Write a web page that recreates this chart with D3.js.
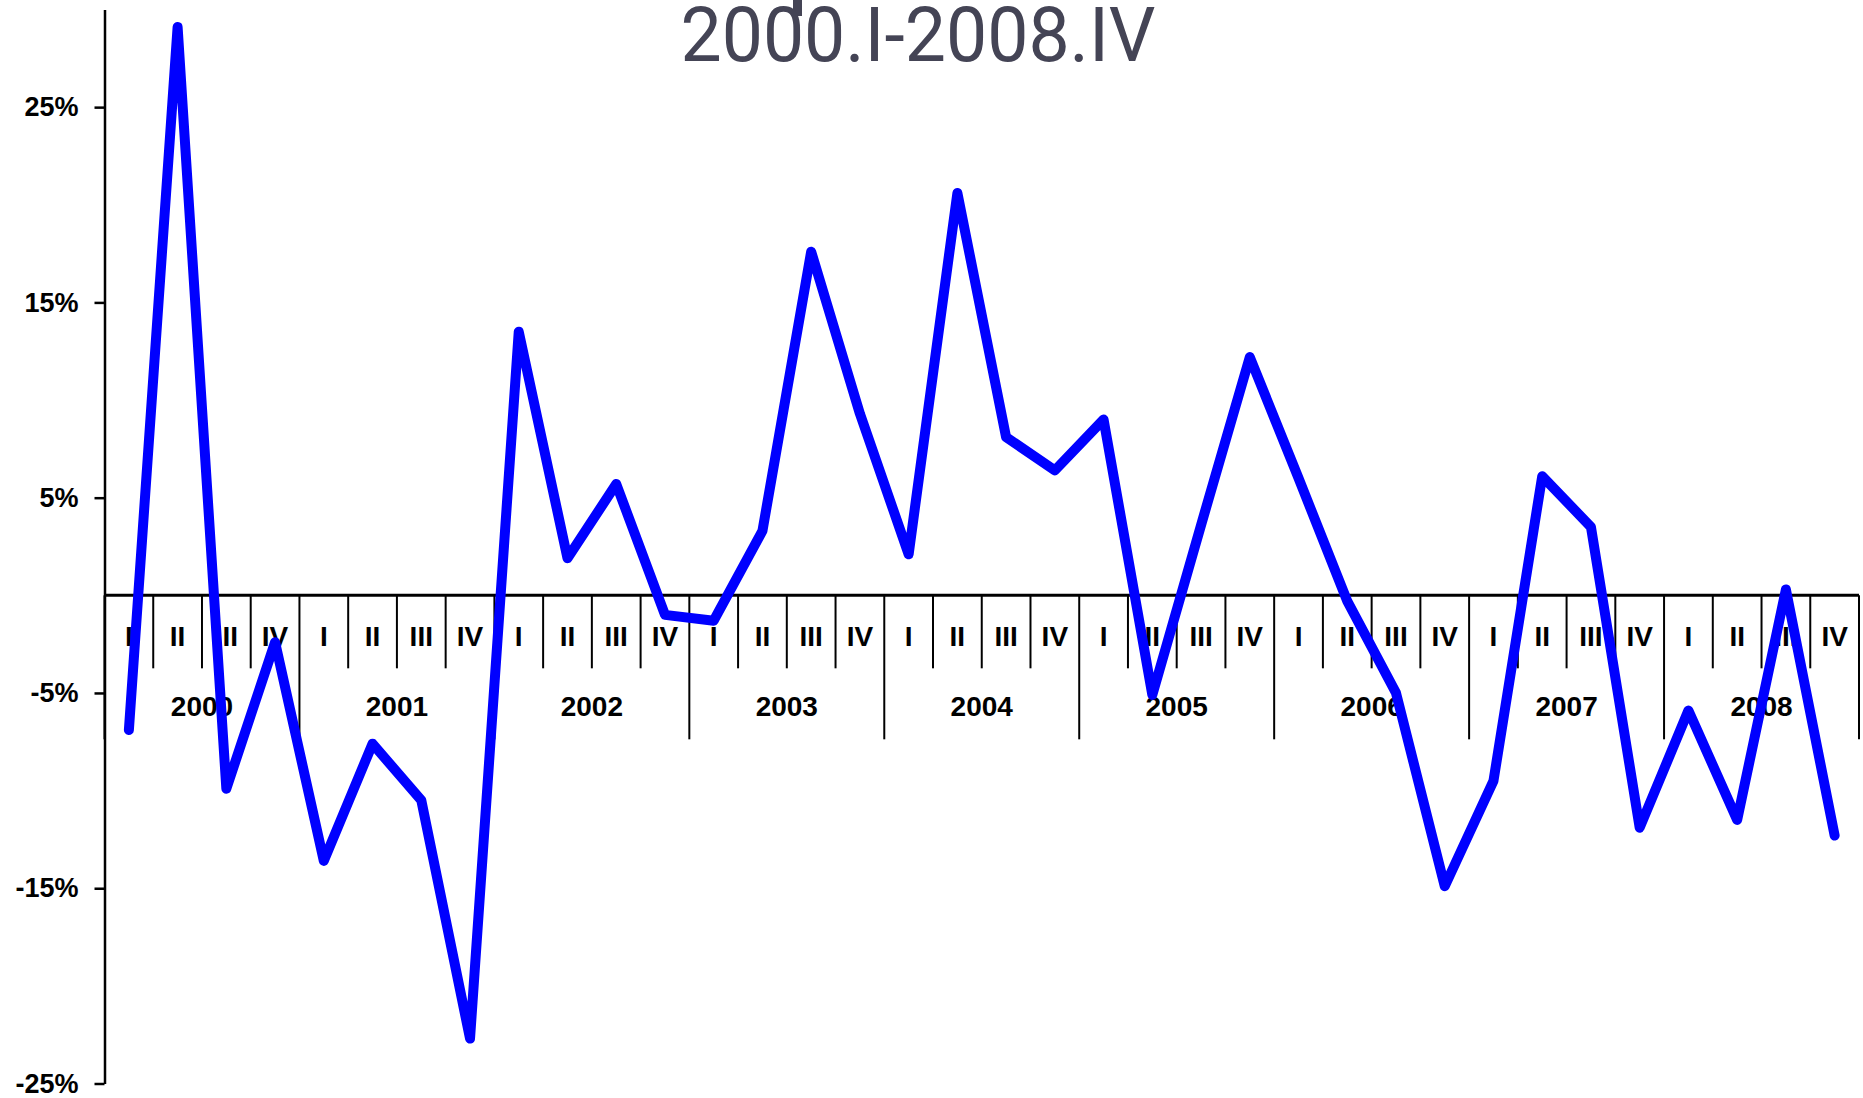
<!DOCTYPE html>
<html>
<head>
<meta charset="utf-8">
<script src="https://cdn.jsdelivr.net/npm/d3@7"></script>
<style>
  body { margin: 0; background: #fff; }
  svg { display: block; }
</style>
</head>
<body>
<script>
// data
var years = ['2000', '2001', '2002', '2003', '2004', '2005', '2006', '2007', '2008'];
var quarters = ['I', 'II', 'III', 'IV'];
var values = [
  -6.9, 29.1, -9.9, -2.4,     // 2000
  -13.6, -7.6, -10.5, -22.7,  // 2001
  13.5, 1.9, 5.7, -1.0,       // 2002
  -1.3, 3.3, 17.6, 9.3,       // 2003
  2.1, 20.6, 8.1, 6.4,        // 2004
  9.0, -5.1, 3.6, 12.2,       // 2005
  6.0, -0.3, -5.0, -14.9,     // 2006
  -9.5, 6.1, 3.5, -11.9,      // 2007
  -5.9, -11.5, 0.3, -12.3     // 2008
];
var yTicks = [-25, -15, -5, 5, 15, 25];

var W = 1863, H = 1098;
var periods = [];
years.forEach(function(yr) { quarters.forEach(function(q) { periods.push({year: yr, q: q, key: yr + '.' + q}); }); });
periods.forEach(function(p, i) { p.v = values[i]; });

var svg = d3.select('body').append('svg')
  .attr('width', W)
  .attr('height', H);

var x = d3.scaleBand().domain(periods.map(d => d.key)).range([104.5, 1859]).padding(0);
var y = d3.scaleLinear().domain([-25, 30]).range([1083.5, 9.5]);

var font = "'Liberation Sans', Arial, sans-serif";

// title (top is clipped in the original, a bit of the line above shows)
svg.append('rect')
  .attr('x', 793).attr('y', 0).attr('width', 9).attr('height', 16)
  .style('fill', '#444455');
svg.append('text')
  .attr('x', 918).attr('y', 61)
  .attr('text-anchor', 'middle')
  .attr('textLength', 475)
  .attr('lengthAdjust', 'spacingAndGlyphs')
  .style('font-family', "Roboto, 'Liberation Sans', sans-serif")
  .style('font-weight', 400)
  .style('font-size', '76px')
  .style('fill', '#444455')
  .text('2000.I-2008.IV');

// y axis
var yAxis = d3.axisLeft(y)
  .tickValues(yTicks)
  .tickFormat(d => d + '%')
  .tickSize(10)
  .tickSizeOuter(0)
  .tickPadding(16);

var gy = svg.append('g')
  .attr('transform', 'translate(' + x.range()[0] + ',0)')
  .call(yAxis);
gy.select('.domain').style('stroke', '#000').style('stroke-width', 2.5);
gy.selectAll('.tick line').style('stroke', '#000').style('stroke-width', 2.5);
gy.selectAll('.tick text')
  .style('font-family', font)
  .style('font-weight', 'bold')
  .style('font-size', '27px')
  .style('fill', '#000');

// x axis : zero line with quarter / year divisions
var gx = svg.append('g').attr('class', 'xaxis');
var y0 = y(0);

gx.selectAll('.qtick')
  .data(periods.filter(d => d.q != 'I'))
  .enter()
  .append('line')
  .attr('class', 'qtick')
  .attr('x1', d => x(d.key)).attr('x2', d => x(d.key))
  .attr('y1', y0).attr('y2', y0 + 73)
  .style('stroke', '#000')
  .style('stroke-width', 2);

var yearEdges = periods.filter(d => d.q == 'I').map(d => x(d.key)).concat([x.range()[1]]);
gx.selectAll('.ytick')
  .data(yearEdges)
  .enter()
  .append('line')
  .attr('class', 'ytick')
  .attr('x1', d => d).attr('x2', d => d)
  .attr('y1', y0).attr('y2', y0 + 144)
  .style('stroke', '#000')
  .style('stroke-width', 2);

gx.append('line')
  .attr('x1', x.range()[0]).attr('x2', x.range()[1])
  .attr('y1', y0).attr('y2', y0)
  .style('stroke', '#000')
  .style('stroke-width', 3);

gx.selectAll('.qlabel')
  .data(periods)
  .enter()
  .append('text')
  .attr('class', 'qlabel')
  .attr('x', d => x(d.key) + x.bandwidth() / 2)
  .attr('y', 646)
  .attr('text-anchor', 'middle')
  .style('font-family', font)
  .style('font-weight', 'bold')
  .style('font-size', '28px')
  .style('fill', '#000')
  .text(d => d.q);

gx.selectAll('.ylabel')
  .data(years)
  .enter()
  .append('text')
  .attr('class', 'ylabel')
  .attr('x', d => x(d + '.II') + x.bandwidth())
  .attr('y', 716)
  .attr('text-anchor', 'middle')
  .style('font-family', font)
  .style('font-weight', 'bold')
  .style('font-size', '28px')
  .style('fill', '#000')
  .text(d => d);

// the series
var line = d3.line()
  .x(d => x(d.key) + x.bandwidth() / 2)
  .y(d => y(d.v));

svg.append('path')
  .datum(periods)
  .attr('d', line)
  .style('fill', 'none')
  .style('stroke', '#0000ff')
  .style('stroke-width', 10)
  .style('stroke-linejoin', 'round')
  .style('stroke-linecap', 'round');
</script>
</body>
</html>
